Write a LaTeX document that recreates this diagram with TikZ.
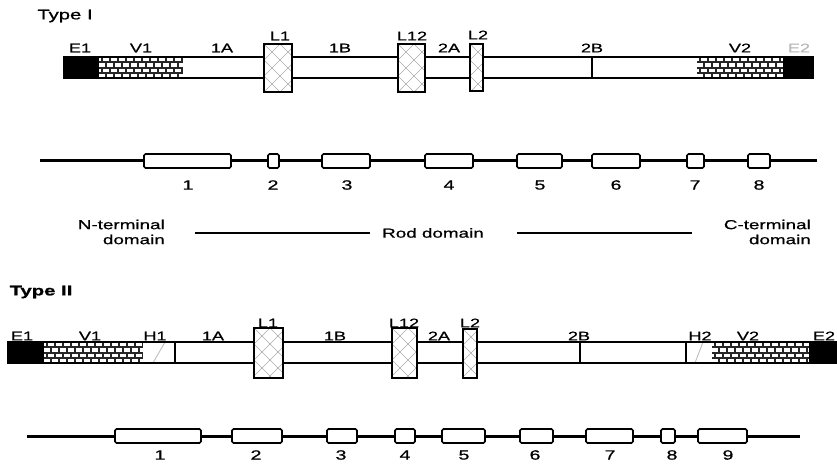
\documentclass[tikz,border=0pt]{standalone}
\usepackage{fontspec}
\setmainfont{Liberation Sans}
\newfontfamily\wide[FakeStretch=1.45,FakeBold=0.8]{Liberation Sans}

% a rectangular block given by its left, right, top and bottom edges
\newcommand\segbox[6]{%
  \node[#2, inner sep=0pt, outer sep=0pt,
        minimum width={(#4)-(#3)}, minimum height={(#6)-(#5)}]
        (#1) at ({((#3)+(#4))/2},{((#5)+(#6))/2}) {};}

\tikzset{
  endblk/.style={fill=black},
  brickblk/.style={path picture={
      \fill[black!85] (path picture bounding box.south west) rectangle (path picture bounding box.north east);
      \begin{scope}[x=1pt, y=-1pt]
        \foreach \r in {0,...,3}{\foreach \c in {0,...,14}{
          \fill[white] ([shift={({\c*8+mod(\r,2)*4-4},{\r*5.3+1})}]path picture bounding box.north west)
            rectangle ++(6.3,3.3);}}
      \end{scope}}},
  hingeblk/.style={fill=white, path picture={
      \draw[gray!55, line width=0.8pt]
        ([shift={(7,5)}]path picture bounding box.south west) --
        ([shift={(-7,-5)}]path picture bounding box.north east);}},
  linkblk/.style={fill=white, draw=black, line width=1.9pt, path picture={
      \begin{scope}[x=1pt, y=-1pt]
        \foreach \k in {-5,...,5}{
          \draw[gray!65, line width=0.6pt]
            ([shift={({\k*16},0)}]path picture bounding box.north west) -- ++(70,70);
          \draw[gray!65, line width=0.6pt]
            ([shift={({\k*16+32},0)}]path picture bounding box.north west) -- ++(-70,70);}
      \end{scope}}},
  outline/.style={draw=black, line width=1.6pt},
  divider/.style={draw=black, line width=1.6pt},
  dombox/.style={draw=black, fill=white, line width=1.6pt, rounded corners=1.5pt},
  rod/.style={line width=3pt},
  sep/.style={line width=1.8pt},
  lab/.style={font=\wide\fontsize{12.5}{12.5}\selectfont, inner sep=0pt},
  num/.style={font=\wide\fontsize{13.5}{13.5}\selectfont, inner sep=0pt},
  dlab/.style={font=\wide\fontsize{13}{15}\selectfont, inner sep=0pt, align=right, anchor=east},
  title/.style={font=\wide\fontsize{14}{14}\selectfont, inner sep=0pt}
}

\begin{document}
\begin{tikzpicture}[x=1pt, y=-1pt]
\useasboundingbox (0,0) rectangle (837,465);

% ---------------- Type I ----------------
\node[title] (t1) at (65,16) {Type I};

\segbox{iE1}{endblk}{64}{99}{57}{78}
\segbox{iV1}{brickblk}{99}{183}{57}{78}
\segbox{iV2}{brickblk}{697}{783}{57}{78}
\segbox{iE2}{endblk}{783}{813}{57}{78}
\segbox{ibar}{outline}{64}{813}{57}{78}
\segbox{i2Ba}{}{483}{592}{57}{78}
\draw[divider] (i2Ba.north east) -- (i2Ba.south east);
\segbox{iL1}{linkblk}{264}{292}{44}{92}
\segbox{iL12}{linkblk}{398}{425}{44}{92}
\segbox{iL2}{linkblk}{470}{483}{44}{91}

\node[lab] (li1) at (80,48) {E1};
\node[lab] (li2) at (141,48) {V1};
\node[lab] (li3) at (222,48) {1A};
\node[lab] (li4) at (280,36) {L1};
\node[lab] (li5) at (340,48) {1B};
\node[lab] (li6) at (412,36) {L12};
\node[lab] (li7) at (449,48) {2A};
\node[lab] (li8) at (478,35) {L2};
\node[lab] (li9) at (592,48) {2B};
\node[lab] (li10) at (740,48) {V2};
\node[lab, text=gray!55] (li11) at (799,48) {E2};

% rod of type I with its eight helical segments
\coordinate (is) at (40,161);
\coordinate (ie) at (817,161);
\segbox{ia1}{dombox}{144}{231}{154}{168}
\segbox{ia2}{dombox}{268}{279}{154}{168}
\segbox{ia3}{dombox}{322}{370}{154}{168}
\segbox{ia4}{dombox}{425}{473}{154}{168}
\segbox{ia5}{dombox}{517}{562}{154}{168}
\segbox{ia6}{dombox}{592}{640}{154}{168}
\segbox{ia7}{dombox}{687}{704}{154}{168}
\segbox{ia8}{dombox}{748}{770}{154}{168}
\draw[rod] (is) -- (ia1) -- (ia2) -- (ia3) -- (ia4) -- (ia5) -- (ia6) -- (ia7) -- (ia8) -- (ie);

\node[num] (in1) at (188,185) {1};
\node[num] (in2) at (273,185) {2};
\node[num] (in3) at (347,185) {3};
\node[num] (in4) at (449,185) {4};
\node[num] (in5) at (540,185) {5};
\node[num] (in6) at (616,185) {6};
\node[num] (in7) at (695,185) {7};
\node[num] (in8) at (759,185) {8};

% domain names
\node[dlab] (nterm) at (165,232) {N-terminal\\domain};
\node[lab, font=\wide\fontsize{13}{13}\selectfont] (roddom) at (433,233) {Rod domain};
\node[dlab] (cterm) at (811,232) {C-terminal\\domain};
\coordinate (sa) at (195,233);
\coordinate (sb) at (370,233);
\coordinate (sc) at (517,233);
\coordinate (sd) at (692,233);
\draw[sep] (sa) -- (sb);
\draw[sep] (sc) -- (sd);

% ---------------- Type II ----------------
\node[title, font=\wide\bfseries\fontsize{14}{14}\selectfont] (t2) at (41,292) {Type II};

\segbox{jE1}{endblk}{8}{44}{342}{363}
\segbox{jV1}{brickblk}{44}{143}{342}{363}
\segbox{jH1}{hingeblk}{143}{175}{342}{363}
\segbox{jH2}{hingeblk}{686}{712}{342}{363}
\segbox{jV2}{brickblk}{712}{809}{342}{363}
\segbox{jE2}{endblk}{809}{836}{342}{363}
\segbox{jbar}{outline}{8}{836}{342}{363}
\draw[divider] (jH1.north east) -- (jH1.south east);
\draw[divider] (jH2.north west) -- (jH2.south west);
\segbox{j2Ba}{}{477}{580}{342}{363}
\draw[divider] (j2Ba.north east) -- (j2Ba.south east);
\segbox{jL1}{linkblk}{254}{283}{328}{378}
\segbox{jL12}{linkblk}{392}{417}{328}{378}
\segbox{jL2}{linkblk}{463}{477}{329}{378}

\node[lab] (lj1) at (22,336) {E1};
\node[lab] (lj2) at (90,336) {V1};
\node[lab] (lj3) at (155,336) {H1};
\node[lab] (lj4) at (213,336) {1A};
\node[lab] (lj5) at (268,323) {L1};
\node[lab] (lj6) at (335,336) {1B};
\node[lab] (lj7) at (404,323) {L12};
\node[lab] (lj8) at (439,336) {2A};
\node[lab] (lj9) at (470,323) {L2};
\node[lab] (lj10) at (579,336) {2B};
\node[lab] (lj11) at (700,336) {H2};
\node[lab] (lj12) at (748,336) {V2};
\node[lab] (lj13) at (824,336) {E2};

% rod of type II with its nine helical segments
\coordinate (js) at (27,436);
\coordinate (je) at (800,436);
\segbox{ja1}{dombox}{115}{201}{429}{443}
\segbox{ja2}{dombox}{232}{282}{429}{443}
\segbox{ja3}{dombox}{327}{357}{429}{443}
\segbox{ja4}{dombox}{395}{415}{429}{443}
\segbox{ja5}{dombox}{442}{485}{429}{443}
\segbox{ja6}{dombox}{520}{553}{429}{443}
\segbox{ja7}{dombox}{586}{633}{429}{443}
\segbox{ja8}{dombox}{661}{675}{429}{443}
\segbox{ja9}{dombox}{698}{747}{429}{443}
\draw[rod] (js) -- (ja1) -- (ja2) -- (ja3) -- (ja4) -- (ja5) -- (ja6) -- (ja7) -- (ja8) -- (ja9) -- (je);

\node[num] (jn1) at (160,455) {1};
\node[num] (jn2) at (256,455) {2};
\node[num] (jn3) at (341,455) {3};
\node[num] (jn4) at (405,455) {4};
\node[num] (jn5) at (464,455) {5};
\node[num] (jn6) at (535,455) {6};
\node[num] (jn7) at (610,455) {7};
\node[num] (jn8) at (672,455) {8};
\node[num] (jn9) at (728,455) {9};
\end{tikzpicture}
\end{document}
